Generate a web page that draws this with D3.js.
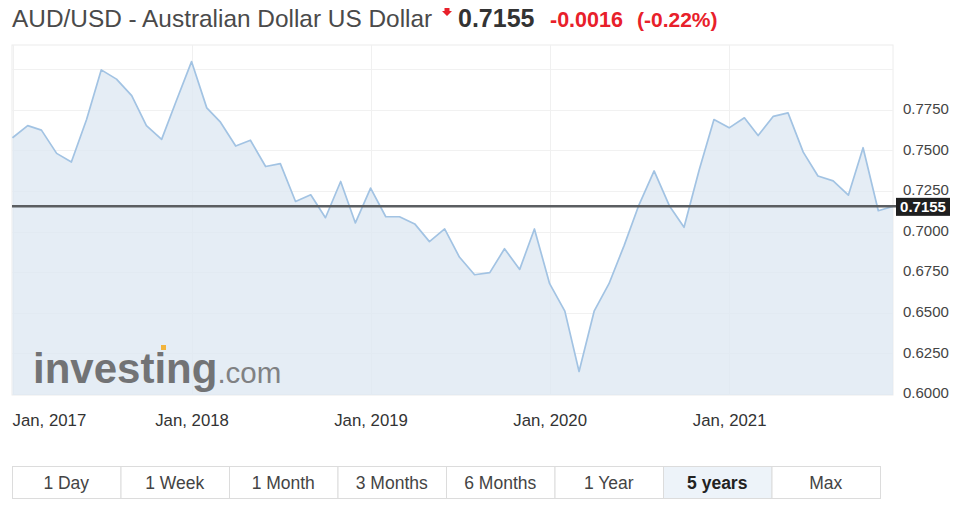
<!DOCTYPE html>
<html>
<head>
<meta charset="utf-8">
<script src="https://cdn.jsdelivr.net/npm/d3@7/dist/d3.min.js"></script>
<style>
  html, body { margin: 0; padding: 0; background: #fff; }
  svg { display: block; font-family: "Liberation Sans", Arial, sans-serif; }
</style>
</head>
<body>
<svg id="chart" width="970" height="513"></svg>
<script>
// ---- Data ----
const months = [
  "2017-01","2017-02","2017-03","2017-04","2017-05","2017-06","2017-07","2017-08","2017-09","2017-10","2017-11","2017-12",
  "2018-01","2018-02","2018-03","2018-04","2018-05","2018-06","2018-07","2018-08","2018-09","2018-10","2018-11","2018-12",
  "2019-01","2019-02","2019-03","2019-04","2019-05","2019-06","2019-07","2019-08","2019-09","2019-10","2019-11","2019-12",
  "2020-01","2020-02","2020-03","2020-04","2020-05","2020-06","2020-07","2020-08","2020-09","2020-10","2020-11","2020-12",
  "2021-01","2021-02","2021-03","2021-04","2021-05","2021-06","2021-07","2021-08","2021-09","2021-10","2021-11","2021-12"
];
const closes = [
  0.7577,0.7652,0.7624,0.7481,0.7428,0.7689,0.7995,0.7938,0.7836,0.7652,0.7567,0.7805,
  0.8046,0.7761,0.7673,0.7526,0.7562,0.7400,0.7418,0.7185,0.7226,0.7085,0.7308,0.7053,
  0.7267,0.7091,0.7091,0.7047,0.6938,0.7016,0.6843,0.6734,0.6747,0.6894,0.6767,0.7016,
  0.6679,0.6510,0.6139,0.6512,0.6679,0.6915,0.7163,0.7373,0.7159,0.7026,0.7380,0.7689,
  0.7638,0.7700,0.7591,0.7709,0.7730,0.7489,0.7342,0.7312,0.7224,0.7516,0.7128,0.7155
];
const yTickValues = [0.6000,0.6250,0.6500,0.6750,0.7000,0.7250,0.7500,0.7750];
const yGridValues = [0.6000,0.6250,0.6500,0.6750,0.7000,0.7250,0.7500,0.7750,0.8000];
const xTickDates = ["2017-01","2018-01","2019-01","2020-01","2021-01"];
const xTickLabels = ["Jan, 2017","Jan, 2018","Jan, 2019","Jan, 2020","Jan, 2021"];
const buttonLabels = ["1 Day","1 Week","1 Month","3 Months","6 Months","1 Year","5 years","Max"];
const activeButton = "5 years";
const titleText = "AUD/USD - Australian Dollar US Dollar";
const currentPrice = 0.7155;
const changeText = "-0.0016";
const changePctText = "(-0.22%)";

// ---- Layout ----
const svg = d3.select("#chart");
const parse = d3.timeParse("%Y-%m");
const data = months.map((m, i) => ({ date: parse(m), value: closes[i] }));

const plot = { left: 12, right: 893, top: 45, bottom: 395 };

const x = d3.scaleTime()
  .domain([parse("2017-01"), parse("2021-12")])
  .range([12.5, 893]);
const y = d3.scaleLinear()
  .domain([0.5994, 0.8148])
  .range([plot.bottom, plot.top]);

// Title
const title = svg.append("g");
title.append("text").attr("x", 12).attr("y", 27)
  .attr("font-size", 24.4).attr("fill", "#4a4a4a").text(titleText);
title.append("path")
  .attr("d", "M444.5,8 L449.5,8 L449.5,11 L452,11 L447,16 L442,11 L444.5,11 Z")
  .attr("fill", "#e8202a");
title.append("text").attr("x", 458).attr("y", 27)
  .attr("font-size", 25).attr("font-weight", "bold").attr("fill", "#333").text(d3.format(".4f")(currentPrice));
title.append("text").attr("x", 550).attr("y", 27)
  .attr("font-size", 21.5).attr("font-weight", "bold").attr("fill", "#e8202a").text(changeText);
title.append("text").attr("x", 637).attr("y", 27)
  .attr("font-size", 21).attr("font-weight", "bold").attr("fill", "#e8202a").text(changePctText);

// Clip
svg.append("defs").append("clipPath").attr("id", "plotclip")
  .append("rect")
  .attr("x", plot.left).attr("y", plot.top)
  .attr("width", plot.right - plot.left).attr("height", plot.bottom - plot.top);

// Plot background/border
svg.append("rect")
  .attr("x", plot.left).attr("y", plot.top)
  .attr("width", plot.right - plot.left).attr("height", plot.bottom - plot.top)
  .attr("fill", "#fff").attr("stroke", "#ececec").attr("stroke-width", 1);

// Grid
const grid = svg.append("g").attr("clip-path", "url(#plotclip)");
grid.selectAll("line.h").data(yGridValues).join("line")
  .attr("class", "h")
  .attr("x1", plot.left).attr("x2", plot.right)
  .attr("y1", d => Math.round(y(d)) + 0.5).attr("y2", d => Math.round(y(d)) + 0.5)
  .attr("stroke", "#f1f1f1");
grid.selectAll("line.v").data(xTickDates).join("line")
  .attr("class", "v")
  .attr("y1", plot.top).attr("y2", plot.bottom)
  .attr("x1", d => Math.round(x(parse(d))) + 0.5).attr("x2", d => Math.round(x(parse(d))) + 0.5)
  .attr("stroke", "#f0f0f0");

// Area + line
const series = svg.append("g").attr("clip-path", "url(#plotclip)");
const area = d3.area().x(d => x(d.date)).y0(plot.bottom).y1(d => y(d.value));
const line = d3.line().x(d => x(d.date)).y(d => y(d.value));
series.append("path").datum(data).attr("d", area)
  .attr("fill", "#dfe9f3").attr("fill-opacity", 0.8);
series.append("path").datum(data).attr("d", line)
  .attr("fill", "none").attr("stroke", "#a2c3e3").attr("stroke-width", 1.7)
  .attr("stroke-linejoin", "round");

// Watermark
const wm = svg.append("text").attr("x", 33).attr("y", 383);
wm.append("tspan").attr("font-size", 42).attr("font-weight", "bold").attr("fill", "#727375")
  .text("investing");
wm.append("tspan").attr("font-size", 29.5).attr("fill", "#808183").text(".com");
svg.append("rect").attr("x", 161).attr("y", 345).attr("width", 5).attr("height", 5)
  .attr("fill", "#f2b43c");

// Y axis labels
const yAxis = d3.axisRight(y).tickValues(yTickValues).tickFormat(d3.format(".4f")).tickSize(0).tickPadding(0);
const yg = svg.append("g").attr("transform", `translate(903,-1)`).call(yAxis);
yg.select(".domain").remove();
yg.selectAll("text").attr("font-size", 15).attr("fill", "#444")
  .attr("font-family", "Liberation Sans, Arial, sans-serif");

// X axis labels
const xAxis = d3.axisBottom(x).tickValues(xTickDates.map(parse))
  .tickFormat((d, i) => xTickLabels[i]).tickSize(0).tickPadding(0);
const xg = svg.append("g").attr("transform", `translate(0,414)`).call(xAxis);
xg.select(".domain").remove();
xg.selectAll("text").attr("font-size", 16.8).attr("fill", "#333")
  .attr("font-family", "Liberation Sans, Arial, sans-serif");
xg.selectAll(".tick").filter((d, i) => i === 0).select("text")
  .attr("text-anchor", "start").attr("x", plot.left - x(parse(xTickDates[0])));

// Current price line + label
svg.append("line")
  .attr("x1", plot.left).attr("x2", 896)
  .attr("y1", y(currentPrice)).attr("y2", y(currentPrice))
  .attr("stroke", "#5b5e61").attr("stroke-width", 2.5);
svg.append("rect").attr("x", 896).attr("y", y(currentPrice) - 8.5)
  .attr("width", 54).attr("height", 18).attr("fill", "#1f1f1f");
svg.append("text").attr("x", 923).attr("y", y(currentPrice) + 5.5)
  .attr("text-anchor", "middle").attr("font-size", 15).attr("font-weight", "bold")
  .attr("fill", "#fff").text(d3.format(".4f")(currentPrice));

// Buttons
const bx = d3.scaleBand().domain(buttonLabels).range([12, 880]).paddingInner(0);
const bg = svg.append("g");
const btn = bg.selectAll("g").data(buttonLabels).join("g")
  .attr("transform", d => `translate(${bx(d)},466)`);
btn.append("rect")
  .attr("x", 0.5).attr("y", 0.5).attr("width", bx.bandwidth()).attr("height", 32)
  .attr("fill", d => d === activeButton ? "#edf3f9" : "#fff")
  .attr("stroke", "#dcdcdc");
btn.append("text")
  .attr("x", bx.bandwidth() / 2).attr("y", 23)
  .attr("text-anchor", "middle").attr("font-size", 17.5)
  .attr("font-weight", d => d === activeButton ? "bold" : "normal")
  .attr("fill", d => d === activeButton ? "#222" : "#444")
  .text(d => d);
</script>
</body>
</html>
